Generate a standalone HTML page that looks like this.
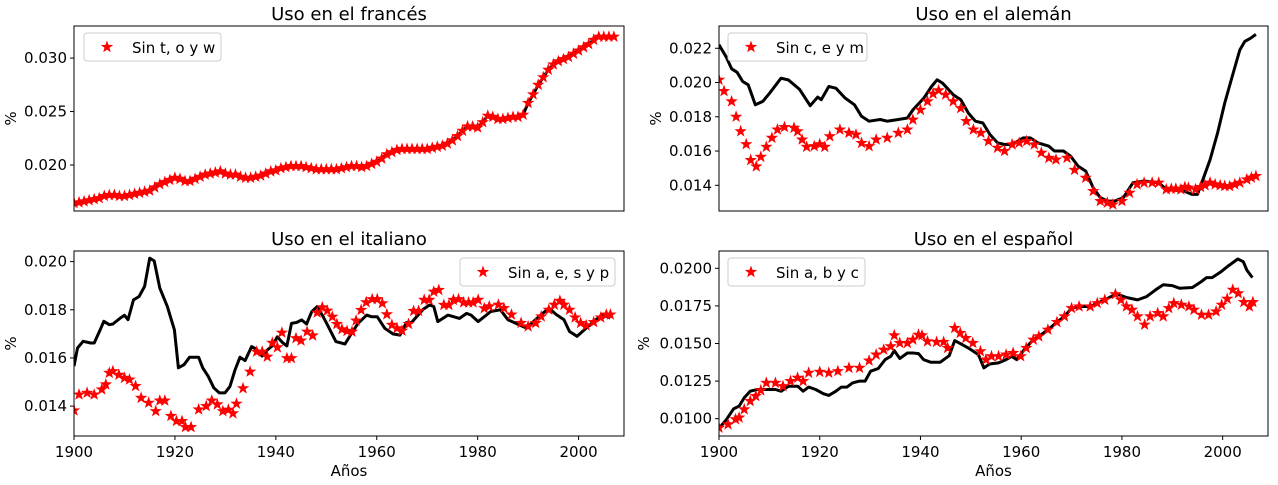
<!DOCTYPE html>
<html><head><meta charset="utf-8"><style>
html,body{margin:0;padding:0;background:#fff;}
svg{display:block;font-family:"DejaVu Sans","Liberation Sans",sans-serif;}
</style></head><body>
<svg id="fig" width="1278" height="485" viewBox="0 0 1278 485" xmlns="http://www.w3.org/2000/svg"></svg>
<script>
// Shared x-axis: years
const xTicks = [1900, 1920, 1940, 1960, 1980, 2000];
const xDomain = [1900, 2009];

// French (values x1e-4)
const frYears = [];
for (let y = 1900; y <= 2007; y++) frYears.push(y);
const frStarVals = [164.5,165,166,167,168,169,171,172,172,171,171,172,173,174,175,176,179,182,184,186,188,187,185,185,187,189,191,192,193,194,192,191,191,189,188,188,189,190,192,194,195,197,198,199,199,199,198,197,196,196,196,196,196,197,198,199,199,198,199,201,203,206,210,212,214,215,215,215,215,215,215,216,217,218,220,223,227,232,236,236,235,240,246,245,243,243,244,245,245,247,258,266,275,282,289,294,297,299,301,304,307,310,313,317,320,320,320,320];
const frLineVals = frStarVals;
const frTicks = [0.020, 0.025, 0.030];
const frTickLabels = ["0.020", "0.025", "0.030"];

// German
const deStarYears = [1900,1901,1902.5,1903.4,1904.3,1905.4,1906.3,1907.4,1908.3,1909.4,1910.5,1911.6,1913,1914.9,1915.6,1916.5,1917.4,1918.9,1920,1921,1922,1924,1925.8,1927.2,1928.3,1929.8,1931.2,1933.4,1935.6,1937.4,1938.5,1940,1941.4,1942.5,1943.6,1945,1946.5,1948,1949.1,1950.5,1952,1953.5,1955.3,1956.7,1958.2,1959.6,1961.1,1962.6,1964,1965.5,1966.9,1969.1,1970.6,1972.8,1974.3,1975.7,1977.1,1978.2,1980,1981.5,1983,1984.4,1986,1987.3,1988.8,1989.8,1990.7,1991.7,1992.5,1993.2,1994.6,1995.6,1996.5,1997.5,1998.5,1999.5,2000.4,2001.4,2002.4,2003.4,2004.8,2005.7,2006.6];
const deStarVals = [201.6,195,189,180,171.5,164,154.7,151,156.6,162.4,167.7,172.5,174,173.5,171.5,166.7,162.4,162.8,164,162.4,168.6,172.5,170.6,169.6,164.7,162.8,166.7,167.7,170.6,172.5,178.3,184,189,193.4,195.4,192.9,189,185,177.5,172.5,170.6,165.8,161.9,160,163.8,164.8,165.8,163.8,159,156,155,156,149,144.4,136.6,130.8,129.8,128.8,130.8,135.6,140.5,141.5,141.5,141.5,137.6,138,138,137.6,139,138.6,137.6,139,140,141.5,140.5,140,139.6,139.5,140.5,141.5,143.4,144.5,145.4];
const deLineYears = [1900,1901.4,1902.5,1903.6,1904.7,1905.8,1907.2,1908.7,1910.1,1912.3,1913.8,1916,1918.1,1919.6,1920.3,1921.8,1923.2,1925,1926.9,1928.3,1929.8,1932,1933.4,1935.6,1937.4,1938.5,1940.7,1942.2,1943.3,1944.4,1946.5,1948,1949.5,1950.9,1952.4,1953.8,1955.3,1956.7,1958.2,1960.4,1961.8,1963.3,1965.5,1966.6,1968.4,1969.8,1971.3,1972.8,1974.3,1975.7,1977.1,1978.5,1980.3,1982.2,1984.4,1987.3,1988.8,1992.4,1993.9,1995,1996.1,1997.5,1999,2000.4,2001.9,2003.4,2004.4,2005.5,2006.6];
const deLineVals = [222,215,208,206,200.6,198.7,187,189,194,202.5,201.5,196,186.5,191.5,190,197.7,196.7,191,187,180.3,177.4,178.4,177.4,178.4,179.3,184,191,197.7,201.6,199.6,192.9,190,182.2,177.4,176.4,169.6,164.8,163.8,163.8,167.7,167.7,164.8,162.8,160,160,157,151.2,148.3,138.6,132.8,130.8,130.8,132.8,141.5,142.5,141.5,137.6,136.6,134.7,134.7,143.5,155,170.6,188,203.5,219,224,225.8,228.1];
const deTicks = [0.014, 0.016, 0.018, 0.020, 0.022];
const deTickLabels = ["0.014", "0.016", "0.018", "0.020", "0.022"];

// Italian
const itStarYears = [1900,1901,1902.6,1904,1905.5,1906.3,1907,1907.7,1908.9,1910,1911,1912.2,1913.3,1914.8,1916.2,1917,1918,1919.2,1920.3,1921.4,1922.1,1923.2,1924.7,1926.2,1927.3,1928.4,1929.5,1930.6,1931.5,1932.2,1933.5,1934.9,1936.2,1937.3,1938.3,1939.3,1940.3,1941.2,1942.2,1943.1,1944,1945,1946.2,1947.3,1948.2,1949.2,1950.2,1951.2,1952.1,1953.1,1954.1,1955.1,1955.9,1956.9,1957.9,1959.1,1960.1,1961.1,1962,1963,1964,1965,1966.3,1967.3,1968.3,1969.4,1970.4,1971.3,1972.3,1973.3,1974.3,1975.2,1976.2,1977.2,1978.2,1979.1,1980.1,1981.3,1982.3,1984.1,1985.2,1986.7,1988.6,1990,1991.5,1992.6,1994.1,1995.2,1996.3,1997.1,1998.2,1999.3,2000.4,2001.5,2003,2004.4,2005.5,2006.3];
const itStarVals = [138.2,144.8,145.5,144.8,146.9,149,153.8,154.5,153,151.7,151,148.3,143.4,141.4,137.9,142.3,142.3,135.9,133.8,133.8,131.3,131.3,138.6,140,142.3,140.7,137.9,138.5,137,141,147.4,154.3,162.6,162.6,160.5,166.3,164.4,170.5,159.9,159.9,168.2,167.2,170.9,169.3,178.8,181,179.6,177.1,174.1,171.9,171.2,170.9,175.5,179.9,183.1,184.4,184.4,182.7,178.1,173.7,172.3,171.3,174.1,179.5,179.5,184.1,184.1,187.5,188.2,182,182,184.1,184.4,183,183,183,184.1,180.6,181.4,182.1,180.7,178,174.5,173.1,174.5,177.2,180,182.1,183.7,182.1,180,176.8,174.5,173.5,174.9,176.8,178,178,175.9];
const itLineYears = [1900,1900.7,1901.8,1903.3,1904,1905.2,1905.9,1907,1907.7,1909.2,1910,1910.7,1911.8,1912.9,1914,1915,1915.9,1917,1918.5,1919.9,1920.7,1921.8,1922.9,1924.7,1925.5,1926.6,1927.7,1928.8,1929.9,1930.9,1931.9,1932.9,1933.9,1935.2,1936.2,1937.3,1938.3,1939.3,1940.3,1941.3,1942.2,1943.1,1944.1,1945.1,1946.1,1947.1,1948.2,1949.2,1950.4,1951.9,1953.7,1955,1956.3,1958,1959,1960.1,1961.6,1963.2,1964.6,1965.9,1966.9,1967.9,1969.2,1970.5,1971.3,1972.1,1974.1,1976.4,1977.8,1978.7,1980.1,1982.6,1984.5,1986,1988.2,1989.7,1991.1,1994.1,1995.6,1997.1,1998.2,1999.7,2001.5,2003,2004.8,2006.3];
const itLineVals = [156.6,164.1,166.9,166.2,166.2,171.7,175.2,173.8,174.1,176.6,177.7,175.9,184.1,185.5,189.7,201.4,200.3,189,181.4,171.7,155.9,157.2,160.3,160.3,155.9,152.4,147.6,145.5,145.5,148.1,155,160.3,158.9,164.7,163.6,160.8,163.3,165,168.8,166.4,165,174.4,174.7,175.8,174.1,179.2,181.3,177.8,173,166.8,165.8,170.2,174.4,177.8,177.1,177.1,172.3,170,169.5,174.7,174.7,177.1,180.2,182,181.3,175.1,177.8,176.4,178.5,177.8,175.1,179.3,180,175.9,173.8,172.4,175.2,180.7,178,175.9,171,169,172.4,175.2,178,176.6];
const itTicks = [0.014, 0.016, 0.018, 0.020];
const itTickLabels = ["0.014", "0.016", "0.018", "0.020"];

// Spanish
const esStarYears = [1900,1901.8,1903.3,1904,1905,1906.2,1907.3,1908.3,1909.4,1911.2,1912.7,1914.2,1915.6,1916.7,1917.8,1920,1921.8,1923.6,1925.8,1927.9,1929.8,1931.2,1932.7,1934.1,1934.8,1935.9,1937.4,1938.5,1939.6,1940.3,1941.4,1943.2,1944.6,1945.4,1946.8,1947.9,1949,1950.4,1951.9,1953,1954.1,1955.5,1957,1958.4,1959.9,1961,1962.4,1963.5,1965.3,1967.1,1968.6,1970,1971.5,1973.7,1975.1,1976.6,1978.7,1979.8,1980.9,1982,1983.1,1984.5,1985.6,1987.1,1988.2,1989.3,1990.3,1991.8,1993.3,1994.3,1995.8,1997.2,1998.7,1999.8,2000.9,2002,2003.1,2004.2,2005.3,2006];
const esStarVals = [94,96.2,99.6,100.7,106.2,111.7,115,118.8,123.8,123.8,121.6,125,127.2,125,130.5,131.1,130.5,131.6,133.8,133.8,138.6,142.6,145.9,148.1,155.4,150.3,150.3,152.5,155.8,155.4,151.4,151,151,147,160.3,157,153.6,150.3,144.8,139.3,141.5,141.5,142.6,143.7,141.5,147,152.5,154.7,159.2,164.2,168,173.5,174.6,174.6,176.8,179,182.8,179,174.6,172.4,168,162.5,168,170.2,168,173.5,176.8,175.7,174.6,172.4,169.1,169.1,171.3,175.7,179.7,185.7,183.4,177.5,174.6,177.5];
const esLineYears = [1900,1901.5,1902.9,1904,1905,1906.2,1907.6,1909.8,1911.2,1912.3,1913.8,1915.6,1916.7,1917.8,1919.2,1920.7,1921.8,1923.2,1924.3,1925.4,1926.5,1927.9,1929,1930.1,1931.6,1933,1934.1,1934.8,1935.9,1937.4,1938.5,1939.6,1940.6,1942.1,1943.9,1945.7,1946.8,1948.3,1949.7,1951.5,1952.6,1953.7,1955.5,1957,1958.1,1959.1,1960.6,1962.4,1963.5,1965.3,1967.1,1968.6,1970,1971.5,1973.7,1975.1,1976.6,1978.7,1979.5,1980.9,1983.1,1984.9,1986.7,1988.2,1990,1991.4,1994,1995.8,1996.8,1997.9,1999.7,2001.2,2003,2004.1,2004.8,2005.9];
const esLineVals = [93.6,99.6,106.6,108.4,113.9,118.3,119.4,119.4,119.4,118.3,121.6,121.6,118.3,121,119.4,116.6,115.5,118.3,121,121,123.8,125,125,131.6,133.3,139.3,141.5,145.3,140,143.7,143.7,143.3,139.3,137.5,137.5,141.9,151.9,149.2,146.6,142.6,133.8,136.4,137.1,139.3,141.5,139.3,145.9,152.5,154.7,159.2,164.2,168,173.5,174.6,174.6,176.8,179,182.8,182.3,180.6,179,181.2,185.7,189,188.5,186.8,187.2,191.2,193.8,193.8,197.8,201.8,206.2,204.4,198.9,193.8];
const esTicks = [0.0100, 0.0125, 0.0150, 0.0175, 0.0200];
const esTickLabels = ["0.0100", "0.0125", "0.0150", "0.0175", "0.0200"];

const NS = "http://www.w3.org/2000/svg";
const svg = document.getElementById("fig");
function mk(tag, attrs, parent) {
  const e = document.createElementNS(NS, tag);
  for (const k in attrs) e.setAttribute(k, attrs[k]);
  (parent || svg).appendChild(e);
  return e;
}
function starPts(cx, cy, R) {
  const r = R * 0.4; let p = [];
  for (let i = 0; i < 10; i++) {
    const a = -Math.PI / 2 + i * Math.PI / 5, rr = i % 2 ? r : R;
    p.push((cx + rr * Math.cos(a)).toFixed(1) + "," + (cy + rr * Math.sin(a)).toFixed(1));
  }
  return p.join(" ");
}

function panel(cfg) {
  const g = mk("g", {});
  
  
  const L = cfg.x0, R = cfg.x1, T = cfg.y0, B = cfg.y1;
  const xs = v => L + (v - xDomain[0]) / (xDomain[1] - xDomain[0]) * (R - L);
  const ys = v => B - (v - cfg.ymin) / (cfg.ymax - cfg.ymin) * (B - T);
  const cp = mk("clipPath", {id: cfg.name + "-clip"}, g);
  mk("rect", {x: L, y: T, width: R - L, height: B - T}, cp);
  const plot = mk("g", {"clip-path": "url(#" + cfg.name + "-clip)"}, g);
  let d = "";
  cfg.lineYears.forEach((yr, i) => { d += (i ? "L" : "M") + xs(yr).toFixed(1) + "," + ys(cfg.lineVals[i] / 10000).toFixed(1); });
  const ln = mk("path", {d: d, fill: "none", stroke: "#000", "stroke-width": 3, "stroke-linejoin": "round"}, plot);
  
  
  const sg = mk("g", {fill: "#ff0000"}, plot);
  
  
  const n = Math.min(cfg.starYears.length, cfg.starVals.length);
  for (let i = 0; i < n; i++) {
    const s = mk("polygon", {points: starPts(xs(cfg.starYears[i]), ys(cfg.starVals[i] / 10000), 6.5)}, sg);
    
    
  }
  const fr = mk("rect", {x: L, y: T, width: R - L, height: B - T, fill: "none", stroke: "#000", "stroke-width": 1}, g);
  
  
  cfg.ticks.forEach((t, i) => {
    const y = ys(t);
    mk("line", {x1: L - 4, x2: L, y1: y, y2: y, stroke: "#000"}, g);
    const tx = mk("text", {x: L - 7, y: y + 5, "text-anchor": "end", "font-size": 15, fill: "#000"}, g);
    tx.textContent = cfg.tickLabels[i];
    
    
  });
  if (cfg.xlabels) {
    xTicks.forEach(t => {
      const x = xs(t);
      mk("line", {x1: x, x2: x, y1: B, y2: B + 4, stroke: "#000"}, g);
      const tx = mk("text", {x: x, y: B + 21, "text-anchor": "middle", "font-size": 15, fill: "#000"}, g);
      tx.textContent = t;
      
      
    });
    const xl = mk("text", {x: (L + R) / 2, y: B + 40, "text-anchor": "middle", "font-size": 15}, g);
    xl.textContent = "Años";
    
    
  }
  const ylx = L - cfg.ylOff, yly = (T + B) / 2;
  const yl = mk("text", {x: ylx, y: yly, "text-anchor": "middle", "font-size": 15, transform: "rotate(-90 " + ylx + " " + yly + ")"}, g);
  yl.textContent = "%";
  
  
  const ti = mk("text", {x: (L + R) / 2, y: T - 6, "text-anchor": "middle", "font-size": 18}, g);
  ti.textContent = cfg.title;
  
  
  const lg = mk("g", {}, g);
  
  
  mk("rect", {x: cfg.lx, y: T + 7, width: cfg.lw, height: 28, rx: 3, fill: "#fff", stroke: "#ccc"}, lg);
  mk("polygon", {points: starPts(cfg.lx + 23, T + 21, 6.5), fill: "#ff0000"}, lg);
  const lt = mk("text", {x: cfg.lx + 48, y: T + 27, "font-size": 15}, lg);
  lt.textContent = cfg.legend;
  
  
}

panel({name: "panel-french", title: "Uso en el francés", legend: "Sin t, o y w", x0: 74, x1: 624, y0: 26, y1: 211, ymin: 0.0157, ymax: 0.0330, ticks: frTicks, tickLabels: frTickLabels, starYears: frYears, starVals: frStarVals, lineYears: frYears, lineVals: frLineVals, lx: 84, lw: 137, xlabels: false, ylOff: 58});
panel({name: "panel-german", title: "Uso en el alemán", legend: "Sin c, e y m", x0: 719, x1: 1268, y0: 26, y1: 211, ymin: 0.0125, ymax: 0.0233, ticks: deTicks, tickLabels: deTickLabels, starYears: deStarYears, starVals: deStarVals, lineYears: deLineYears, lineVals: deLineVals, lx: 728, lw: 139, xlabels: false, ylOff: 58});
panel({name: "panel-italian", title: "Uso en el italiano", legend: "Sin a, e, s y p", x0: 74, x1: 624, y0: 251, y1: 436, ymin: 0.01276, ymax: 0.02044, ticks: itTicks, tickLabels: itTickLabels, starYears: itStarYears, starVals: itStarVals, lineYears: itLineYears, lineVals: itLineVals, lx: 460, lw: 155, xlabels: true, ylOff: 58});
panel({name: "panel-spanish", title: "Uso en el español", legend: "Sin a, b y c", x0: 719, x1: 1268, y0: 251, y1: 436, ymin: 0.00885, ymax: 0.02115, ticks: esTicks, tickLabels: esTickLabels, starYears: esStarYears, starVals: esStarVals, lineYears: esLineYears, lineVals: esLineVals, lx: 728, lw: 137, xlabels: true, ylOff: 70});
</script>
</body></html>
